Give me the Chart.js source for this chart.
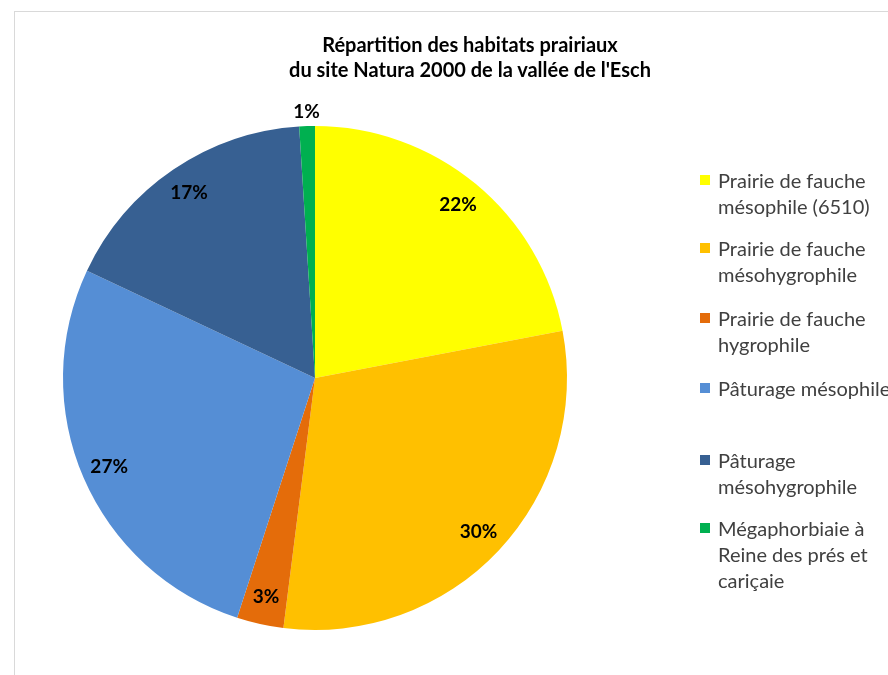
<!DOCTYPE html>
<html>
<head>
<meta charset="utf-8">
<script src="https://cdn.jsdelivr.net/npm/chart.js@4/dist/chart.umd.min.js"></script>
<style>
  html, body { margin: 0; padding: 0; background: #fff; }
  body { width: 888px; height: 675px; position: relative; overflow: hidden; font-family: Lato, 'Open Sans', sans-serif; }
  #frame { position: absolute; left: 14px; top: 11px; width: 900px; height: 700px; border-left: 1px solid #d9d9d9; border-top: 1px solid #d9d9d9; }
  #pie { position: absolute; left: 0; top: 0; }
  #title { position: absolute; left: 220px; width: 500px; top: 32px; text-align: center; font-weight: bold; font-size: 20px; line-height: 25px; color: #000; }
  .item { position: absolute; left: 700px; font-size: 20px; line-height: 26px; color: #404040; white-space: nowrap; }
  .item .sw { position: absolute; left: 0; top: 8px; width: 10px; height: 10px; }
  .item .tx { margin-left: 18px; }
</style>
</head>
<body>
<div id="frame"></div>
<canvas id="pie" width="888" height="675"></canvas>
<div id="title">Répartition des habitats prairiaux<br>du site Natura 2000 de la vallée de l'Esch</div>
<div id="legend"></div>
<script>
const habitats = [
  ['Prairie de fauche', 'mésophile (6510)'],
  ['Prairie de fauche', 'mésohygrophile'],
  ['Prairie de fauche', 'hygrophile'],
  ['Pâturage mésophile'],
  ['Pâturage', 'mésohygrophile'],
  ['Mégaphorbiaie à', 'Reine des prés et', 'cariçaie']
];
const shares = [22, 30, 3, 27, 17, 1];
const colors = ['#ffff00', '#ffc000', '#e46c0a', '#558ed5', '#376092', '#00b050'];
const legendTops = [167, 235, 305, 375, 447, 515];

// percent labels drawn on the slices (small ones go outside)
const sliceLabels = {
  id: 'sliceLabels',
  afterDatasetsDraw(chart) {
    const ctx = chart.ctx;
    const meta = chart.getDatasetMeta(0);
    ctx.save();
    ctx.font = 'bold 19px Lato, sans-serif';
    ctx.fillStyle = '#000';
    ctx.textAlign = 'center';
    ctx.textBaseline = 'middle';
    meta.data.forEach((arc, i) => {
      const v = shares[i];
      const mid = (arc.startAngle + arc.endAngle) / 2;
      const r = v < 2 ? arc.outerRadius + 14 : arc.outerRadius * 0.89;
      ctx.fillText(v + '%', arc.x + Math.cos(mid) * r, arc.y + Math.sin(mid) * r);
    });
    ctx.restore();
  }
};

new Chart(document.getElementById('pie'), {
  type: 'pie',
  data: {
    labels: habitats.map(l => l.join(' ')),
    datasets: [{
      data: shares,
      backgroundColor: colors,
      borderWidth: 0
    }]
  },
  options: {
    responsive: false,
    animation: false,
    layout: { padding: { left: 63, right: 321, top: 126, bottom: 45 } },
    plugins: {
      legend: { display: false },
      tooltip: { enabled: false }
    }
  },
  plugins: [sliceLabels]
});

// legend on the right
const legend = document.getElementById('legend');
habitats.forEach((lines, i) => {
  const div = document.createElement('div');
  div.className = 'item';
  div.style.top = legendTops[i] + 'px';
  div.innerHTML = '<span class="sw" style="background:' + colors[i] + '"></span><div class="tx">' + lines.join('<br>') + '</div>';
  legend.appendChild(div);
});
</script>
</body>
</html>
